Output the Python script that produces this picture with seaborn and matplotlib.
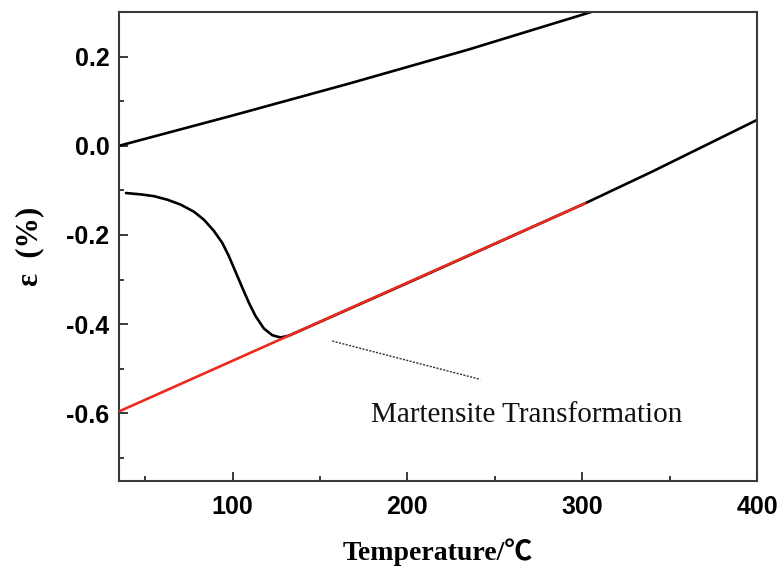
import matplotlib
matplotlib.use("Agg")
import matplotlib.pyplot as plt
from matplotlib.ticker import MultipleLocator, FuncFormatter
import seaborn as sns
import pandas as pd

# Heating branch (upper line)
heat_T = [35, 100, 167, 235, 305]
heat_eps = [0.0, 0.068, 0.140, 0.216, 0.300]

# Cooling branch with the martensite dip (lower curve)
cool_T = [39, 47.4, 55, 62.7, 70.3, 77.9, 83.6, 89.3, 94.1, 97.9, 101.7,
          105.5, 109.3, 113.1, 117.9, 122.7, 127.4, 132.2, 150, 200, 250,
          301.7, 340, 370, 400]
cool_eps = [-0.106, -0.109, -0.113, -0.121, -0.132, -0.148, -0.166, -0.191,
            -0.218, -0.248, -0.283, -0.318, -0.352, -0.382, -0.410, -0.425,
            -0.430, -0.426, -0.395, -0.308, -0.220, -0.129, -0.058, 0.0, 0.058]

# Linear extrapolation of the austenite contraction
fit_T = [35, 301.7]
fit_eps = [-0.596, -0.129]

# Leader line for the annotation
lead_T = [157, 241.7]
lead_eps = [-0.438, -0.524]

sns.set_theme(style="ticks")
plt.rcParams["font.family"] = ["Liberation Sans", "DejaVu Sans"]

fig = plt.figure(figsize=(7.82, 5.75), dpi=100)
ax = fig.add_axes([0.1522, 0.1635, 0.8158, 0.8155])

sns.lineplot(data=pd.DataFrame({"T": heat_T, "eps": heat_eps}), x="T", y="eps",
             sort=False, estimator=None, color="black", linewidth=1.9, ax=ax)
sns.lineplot(data=pd.DataFrame({"T": cool_T, "eps": cool_eps}), x="T", y="eps",
             sort=False, estimator=None, color="black", linewidth=1.9, ax=ax)
sns.lineplot(data=pd.DataFrame({"T": fit_T, "eps": fit_eps}), x="T", y="eps",
             sort=False, estimator=None, color="#ee2a1e", linewidth=1.9, ax=ax,
             zorder=3)
ax.plot(lead_T, lead_eps, color="#333333", linewidth=1.0,
        linestyle=(0, (1.5, 1)))

ax.text(178.9, -0.619, "Martensite Transformation", ha="left", va="baseline",
        fontsize=21, family=["Liberation Serif", "DejaVu Serif"], color="#111111")

ax.set_xlim(35, 400)
ax.set_ylim(-0.752, 0.30)
ax.xaxis.set_major_locator(MultipleLocator(100))
ax.xaxis.set_minor_locator(MultipleLocator(50))
ax.yaxis.set_major_locator(MultipleLocator(0.2))
ax.yaxis.set_minor_locator(MultipleLocator(0.1))
ax.yaxis.set_major_formatter(FuncFormatter(lambda v, p: f"{v:.1f}".replace("\u2212", "-")))

for s in ax.spines.values():
    s.set_color("#3a3a3a")
    s.set_linewidth(1.5)
ax.tick_params(which="both", direction="in", color="#3a3a3a", width=1.4,
               top=False, right=False, labelcolor="black")
ax.tick_params(which="major", length=6.5, labelsize=18)
ax.tick_params(axis="x", which="major", pad=10)
ax.tick_params(axis="y", which="major", pad=7)
ax.tick_params(which="minor", length=3.5)
for lab in ax.get_xticklabels() + ax.get_yticklabels():
    lab.set_fontweight("bold")

ax.set_xlabel("Temperature/\u2103", fontsize=20, fontweight="bold", color="black",
              family=["Liberation Serif", "Noto Sans CJK SC", "DejaVu Sans"],
              labelpad=14)
ax.set_ylabel("\u03b5  (%)", fontsize=22, fontweight="bold", color="black",
              family=["Liberation Serif", "DejaVu Serif"], labelpad=16)

fig.savefig("out.png", dpi=100)
